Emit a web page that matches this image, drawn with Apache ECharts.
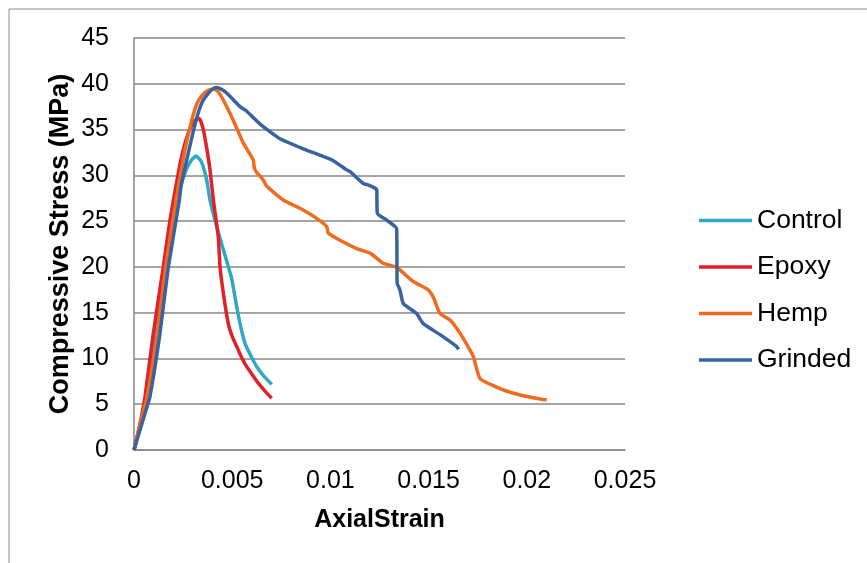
<!DOCTYPE html>
<html>
<head>
<meta charset="utf-8">
<script src="https://cdn.jsdelivr.net/npm/echarts@6/dist/echarts.min.js"></script>
<style>
  html, body { margin: 0; padding: 0; background: #ffffff; }
  #chart { width: 867px; height: 563px; }
</style>
</head>
<body>
<div id="chart"></div>
<script>
// Axial strain / compressive stress curves for four specimen types
const seriesNames = ['Control', 'Epoxy', 'Hemp', 'Grinded'];

const controlStrain = [0, 0.0003, 0.0006, 0.0011, 0.00157, 0.00195, 0.0023, 0.00262, 0.0029, 0.00316, 0.0034, 0.00353, 0.0037, 0.00387, 0.00412, 0.00421, 0.0046, 0.00497, 0.00523, 0.00545, 0.00565, 0.00595, 0.00625, 0.0066, 0.00701];
const controlStress = [0, 2.6, 5.8, 12.5, 20, 25, 28.2, 30.4, 31.6, 32.1, 31.6, 30.9, 29.5, 27.3, 25.1, 24.4, 21.5, 18.75, 15.65, 13.3, 11.65, 10.3, 9.1, 8.1, 7.17];

const epoxyStrain = [0, 0.0003, 0.00056, 0.00098, 0.00149, 0.00183, 0.00205, 0.00234, 0.0026, 0.00285, 0.0031, 0.00333, 0.00353, 0.0037, 0.00387, 0.00404, 0.00429, 0.00438, 0.00455, 0.0048, 0.005, 0.00523, 0.00548, 0.00574, 0.00603, 0.00633, 0.00668, 0.00701];
const epoxyStress = [0, 2.8, 5.8, 12.7, 20, 25.1, 27.8, 31.2, 33.5, 35.1, 36, 36.2, 35, 33, 30.6, 27.3, 23.3, 20, 17.1, 13.8, 12.4, 11.3, 10.1, 9.1, 8.2, 7.3, 6.4, 5.65];

const hempStrain = [0, 0.0003, 0.00066, 0.00119, 0.00161, 0.00214, 0.00226, 0.00256, 0.00294, 0.00322, 0.0035, 0.0038, 0.00407, 0.00425, 0.00445, 0.00472, 0.00506, 0.00557, 0.00607, 0.00612, 0.00622, 0.00658, 0.00676, 0.0076, 0.00845, 0.0093, 0.00981, 0.00989, 0.01049, 0.01134, 0.01202, 0.01269, 0.01337, 0.01422, 0.01498, 0.01524, 0.01558, 0.01609, 0.01665, 0.01711, 0.01728, 0.01762, 0.01864, 0.01932, 0.02033, 0.02101];
const hempStress = [0, 2.7, 5.8, 12.7, 20, 27.3, 28.8, 32.4, 36, 37.9, 38.8, 39.3, 39.4, 39.2, 38.6, 37.5, 36.0, 33.5, 31.7, 30.9, 30.4, 29.5, 28.8, 27.3, 26.4, 25.3, 24.4, 23.7, 22.9, 22.0, 21.5, 20.4, 19.95, 18.4, 17.5, 16.7, 14.9, 14.2, 12.6, 10.9, 10.2, 7.8, 6.7, 6.2, 5.7, 5.46];

const grindedStrain = [0, 0.00056, 0.00081, 0.00132, 0.00175, 0.00231, 0.00239, 0.00276, 0.00316, 0.00345, 0.0038, 0.00405, 0.00424, 0.00445, 0.00472, 0.0054, 0.00574, 0.00642, 0.00743, 0.00862, 0.00947, 0.01015, 0.01083, 0.0110, 0.01168, 0.01185, 0.01227, 0.01236, 0.01239, 0.01287, 0.01337, 0.0134, 0.01354, 0.01371, 0.01439, 0.01473, 0.01558, 0.01643, 0.01652];
const grindedStress = [0, 4.0, 5.8, 12.7, 20, 27.3, 28.8, 32.4, 36, 37.9, 39.0, 39.5, 39.6, 39.4, 39.0, 37.5, 37.0, 35.6, 34.0, 32.9, 32.2, 31.6, 30.6, 30.4, 29.1, 29.0, 28.6, 28.4, 25.85, 25.1, 24.2, 18.2, 17.5, 16.0, 14.9, 13.8, 12.6, 11.3, 11.0];

const xTicks = [0, 0.005, 0.01, 0.015, 0.02, 0.025];
const yTicks = [0, 5, 10, 15, 20, 25, 30, 35, 40, 45];

const colors = ['#2fa8c6', '#e0202b', '#f06a1f', '#3863a0'];
const font = 'Liberation Sans, Arial, sans-serif';

function zip(xs, ys) { return xs.map((x, i) => [x, ys[i]]); }

const curves = [
  zip(controlStrain, controlStress),
  zip(epoxyStrain, epoxyStress),
  zip(hempStrain, hempStress),
  zip(grindedStrain, grindedStress)
];

const chart = echarts.init(document.getElementById('chart'), null, { renderer: 'canvas' });

chart.setOption({
  animation: false,
  backgroundColor: '#ffffff',
  color: colors,
  graphic: [{
    type: 'rect',
    shape: { x: 9, y: 9, width: 900, height: 600 },
    style: { fill: 'none', stroke: '#8c8c8c', lineWidth: 1 },
    silent: true
  }],
  grid: { left: 134, top: 38, right: 242, bottom: 113, containLabel: false },
  legend: {
    orient: 'vertical',
    left: 699,
    top: 207,
    padding: 0,
    icon: 'rect',
    itemWidth: 53,
    itemHeight: 3.5,
    itemGap: 19.5,
    textStyle: { fontFamily: font, fontSize: 26.5, color: '#000000', padding: [0, 0, 0, 0] },
    data: seriesNames
  },
  xAxis: {
    type: 'value',
    min: xTicks[0],
    max: xTicks[xTicks.length - 1],
    interval: xTicks[1] - xTicks[0],
    name: 'AxialStrain',
    nameLocation: 'middle',
    nameGap: 58,
    nameMoveOverlap: false,
    nameTextStyle: { fontFamily: font, fontSize: 25, fontWeight: 'bold', color: '#000000' },
    axisLine: { show: true, lineStyle: { color: '#868686', width: 1.5 } },
    axisTick: { show: false },
    splitLine: { show: false },
    axisLabel: {
      margin: 19,
      fontFamily: font, fontSize: 25, color: '#000000',
      formatter: v => String(+v.toFixed(3))
    }
  },
  yAxis: {
    type: 'value',
    min: yTicks[0],
    max: yTicks[yTicks.length - 1],
    interval: yTicks[1] - yTicks[0],
    name: 'Compressive Stress (MPa)',
    nameLocation: 'middle',
    nameGap: 60,
    nameMoveOverlap: false,
    nameTextStyle: { fontFamily: font, fontSize: 27, fontWeight: 'bold', color: '#000000' },
    axisLine: { show: true, lineStyle: { color: '#868686', width: 1.5 } },
    axisTick: { show: false },
    splitLine: { show: true, lineStyle: { color: '#868686', width: 1.5 } },
    axisLabel: { margin: 25, fontFamily: font, fontSize: 25, color: '#000000' }
  },
  series: seriesNames.map((name, i) => ({
    name: name,
    type: 'line',
    data: curves[i],
    symbol: 'none',
    smooth: 0.15,
    lineStyle: { width: 3.5, color: colors[i] },
    itemStyle: { color: colors[i] }
  }))
});
</script>
</body>
</html>
